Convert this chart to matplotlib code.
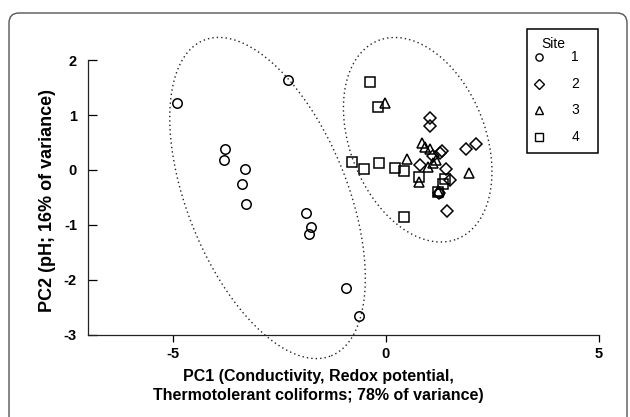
import matplotlib.pyplot as plt
import numpy as np
from matplotlib.lines import Line2D
from matplotlib.patches import FancyBboxPatch, Rectangle

plt.rcParams['font.family'] = ['Liberation Sans', 'DejaVu Sans']
plt.rcParams['axes.unicode_minus'] = False

# site scores (PC1, PC2)
site1_x = [-4.90, -2.30, -3.79, -3.80, -3.30, -3.37, -3.28, -1.88, -1.75, -1.81, -0.94, -0.64, 1.24]
site1_y = [1.21, 1.64, 0.39, 0.19, 0.01, -0.25, -0.62, -0.79, -1.04, -1.17, -2.15, -2.65, -0.41]

site2_x = [1.05, 1.05, 1.31, 1.27, 1.11, 1.88, 2.13, 0.80, 1.41, 1.52, 1.25, 1.43]
site2_y = [0.94, 0.80, 0.35, 0.31, 0.26, 0.38, 0.47, 0.09, 0.01, -0.18, -0.41, -0.75]

site3_x = [-0.02, 0.84, 0.93, 1.04, 0.49, 1.19, 1.11, 1.00, 0.78, 1.95, 1.23]
site3_y = [1.21, 0.49, 0.42, 0.39, 0.20, 0.18, 0.13, 0.06, -0.21, -0.05, -0.38]

site4_x = [-0.38, -0.19, -0.80, -0.52, -0.15, 0.21, 0.43, 0.78, 1.40, 1.35, 0.42, 1.22]
site4_y = [1.60, 1.15, 0.15, 0.01, 0.13, 0.03, -0.02, -0.13, -0.17, -0.26, -0.86, -0.40]

sites = ['1', '2', '3', '4']
markers = ['o', 'D', '^', 's']

# grouping ellipses: centre, semi axes (in PC1 units), angle on screen
elipses = [((-2.78, -0.51), 4.0, 1.88, -68.0),
           ((0.75, 0.55), 2.51, 1.59, -68.2)]

fig = plt.figure(figsize=(6.3, 4.17), dpi=100)
ax = fig.add_axes([0.1397, 0.197, 0.8103, 0.659])

# outer rounded frame
moldura = FancyBboxPatch((0.09, -0.5), 6.18, 4.54, boxstyle='round,pad=0,rounding_size=0.1',
                         transform=fig.dpi_scale_trans, facecolor='none',
                         edgecolor='#555555', linewidth=1.0)
fig.patches.append(moldura)

xs = [site1_x, site2_x, site3_x, site4_x]
ys = [site1_y, site2_y, site3_y, site4_y]
for x, y, m in zip(xs, ys, markers):
    ms = 6.2 if m == 'D' else 6.8
    ax.plot(x, y, linestyle='none', marker=m, markersize=ms, markerfacecolor='none',
            markeredgecolor='black', markeredgewidth=1.1, clip_on=False)

ax.set_xlim(-7, 5)
ax.set_ylim(-3, 2)

# px per unit on each axis, so the ellipse keeps its shape on screen
larg = 0.8103 * 6.3 * 100 / 12
alt = 0.659 * 4.17 * 100 / 5
phi = np.linspace(0, 2 * np.pi, 400)
for (cx, cy), a, b, ang in elipses:
    t = np.radians(ang)
    dx = a * np.cos(phi) * np.cos(t) - b * np.sin(phi) * np.sin(t)
    dy = a * np.cos(phi) * np.sin(t) + b * np.sin(phi) * np.cos(t)
    ax.plot(cx + dx, cy + dy * larg / alt, linestyle=(0, (1, 2.2)), color='#222222',
            linewidth=1.0, clip_on=False)

ax.spines['top'].set_visible(False)
ax.spines['right'].set_visible(False)
for s in ['left', 'bottom']:
    ax.spines[s].set_linewidth(0.9)
    ax.spines[s].set_color('#222222')

ax.set_xticks([-5, 0, 5])
ax.set_yticks([-3, -2, -1, 0, 1, 2])
ax.tick_params(axis='x', direction='out', length=5, width=0.9, pad=4, labelsize=10.5)
ax.tick_params(axis='y', direction='in', length=6.5, width=0.9, pad=8, labelsize=10.5)
for lab in ax.get_xticklabels() + ax.get_yticklabels():
    lab.set_fontweight('bold')

fig.text(318 / 630, 1 - 386 / 417, 'PC1 (Conductivity, Redox potential,\nThermotolerant coliforms; 78% of variance)',
         ha='center', va='center', fontsize=11.5, fontweight='bold', linespacing=1.4)
fig.text(48 / 630, 1 - 201 / 417, 'PC2 (pH; 16% of variance)', rotation=90,
         ha='center', va='center', fontsize=13, fontweight='bold')

# legend box drawn by hand (title sits off-centre in the original)
fig.add_artist(Rectangle((527 / 630, 1 - 153 / 417), 71 / 630, 124 / 417,
                         transform=fig.transFigure, fill=False, edgecolor='black', linewidth=1.1))
fig.text(553 / 630, 1 - 44 / 417, 'Site', ha='center', va='center', fontsize=10)
for i, (m, s) in enumerate(zip(markers, sites)):
    yy = 1 - (57 + 26.7 * i) / 417
    fig.add_artist(Line2D([539 / 630], [yy], transform=fig.transFigure, linestyle='none',
                          marker=m, markersize=5.2, markerfacecolor='none',
                          markeredgecolor='black', markeredgewidth=1.0))
    fig.text(575 / 630, yy, s, ha='center', va='center', fontsize=10)

fig.savefig('out.png', dpi=100)
